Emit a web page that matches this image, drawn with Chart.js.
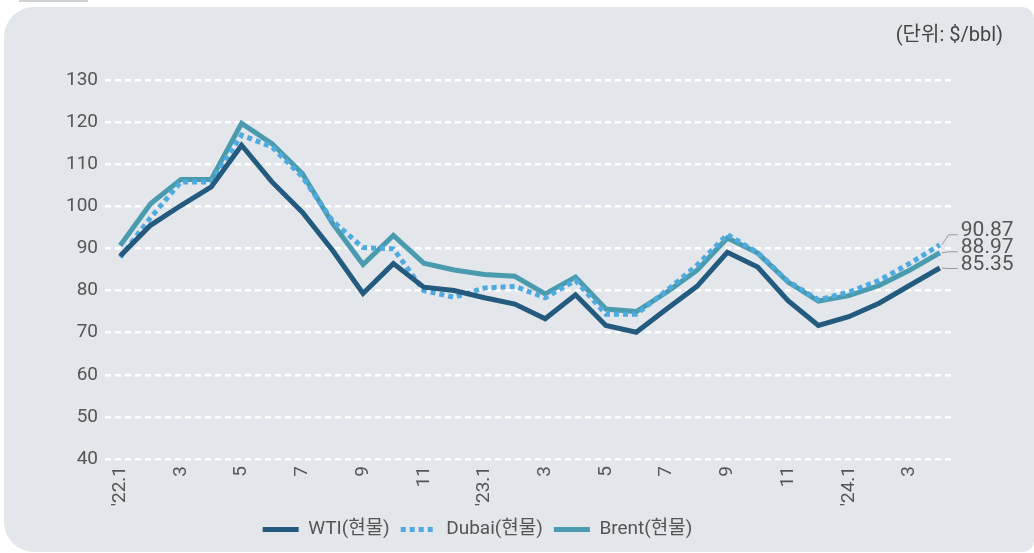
<!DOCTYPE html>
<html>
<head>
<meta charset="utf-8">
<script src="https://cdn.jsdelivr.net/npm/chart.js@4/dist/chart.umd.min.js"></script>
<style>
  html, body { margin: 0; padding: 0; background: #ffffff; width: 1034px; height: 553px; overflow: hidden; }
  #tab { position: absolute; left: 19px; top: 0; width: 69px; height: 2px; background: #cfd2d5; }
  #panel { position: absolute; left: 4px; top: 7px; width: 1030px; height: 545px; background: #e3e7eb;
           border-radius: 30px 12px 12px 30px; }
  #c { position: absolute; left: 0; top: 0; }
</style>
</head>
<body>
<div id="tab"></div>
<div id="panel"></div>
<canvas id="c" width="1034" height="553"></canvas>
<script>
const categories = ["'22.1","2","3","4","5","6","7","8","9","10","11","12",
                    "'23.1","2","3","4","5","6","7","8","9","10","11","12",
                    "'24.1","2","3","4"];
const wti   = [88.2, 95.5, 100.2, 104.6, 114.5, 105.8, 98.6, 89.5, 79.3, 86.4, 80.8, 80.0,
               78.3, 76.8, 73.3, 79.0, 71.7, 70.1, 75.6, 81.0, 89.1, 85.6, 77.6, 71.7,
               73.8, 77.0, 81.2, 85.35];
const dubai = [87.9, 97.3, 105.8, 105.8, 116.9, 114.1, 107.0, 96.5, 90.2, 89.9, 80.0, 78.4,
               80.6, 81.0, 78.3, 82.4, 74.4, 74.4, 80.0, 86.0, 93.3, 89.0, 82.2, 77.8,
               79.6, 82.4, 86.4, 90.87];
const brent = [90.7, 100.6, 106.4, 106.4, 119.7, 114.9, 107.8, 95.9, 86.2, 93.1, 86.5, 84.9,
               83.8, 83.4, 79.2, 83.2, 75.6, 75.0, 79.6, 84.8, 92.5, 88.9, 82.0, 77.5,
               78.8, 81.2, 84.8, 88.97];
const seriesNames = ["WTI(현물)", "Dubai(현물)", "Brent(현물)"];
const endLabels = ["85.35", "90.87", "88.97"];
const unitText = "(단위: $/bbl)";
const yTicks = { min: 40, max: 130, step: 10 };

const FONT = 'Roboto, "Noto Sans CJK KR", sans-serif';
const TXT = '#555555';

const endLabelPlugin = {
  id: 'endLabels',
  afterDatasetsDraw(chart) {
    const ctx = chart.ctx;
    const offsets = [-3.5, -14, -5];
    ctx.save();
    chart.data.datasets.forEach((ds, i) => {
      const meta = chart.getDatasetMeta(i);
      const pt = meta.data[meta.data.length - 1];
      const ly = pt.y + offsets[i];
      ctx.strokeStyle = '#9a9a9a';
      ctx.lineWidth = 1;
      ctx.setLineDash([]);
      ctx.beginPath();
      ctx.moveTo(pt.x + 2, pt.y);
      ctx.lineTo(pt.x + 9, ly + 4);
      ctx.lineTo(pt.x + 18, ly + 4);
      ctx.stroke();
      ctx.fillStyle = TXT;
      ctx.font = '21px ' + FONT;
      ctx.textAlign = 'left';
      ctx.textBaseline = 'middle';
      ctx.fillText(endLabels[i], pt.x + 21, ly);
    });
    ctx.font = '20px ' + FONT;
    ctx.fillStyle = '#444444';
    ctx.textAlign = 'right';
    ctx.textBaseline = 'middle';
    ctx.fillText(unitText, 1003, 36);
    ctx.restore();
  }
};

new Chart(document.getElementById('c'), {
  type: 'line',
  data: {
    labels: categories,
    datasets: [
      { label: seriesNames[0], data: wti, borderColor: '#235a7d', backgroundColor: '#235a7d',
        borderWidth: 5, pointRadius: 0, tension: 0, borderCapStyle: 'butt', borderJoinStyle: 'miter' },
      { label: seriesNames[1], data: dubai, borderColor: '#4faae0', backgroundColor: '#4faae0',
        borderWidth: 5, borderDash: [5, 4], pointRadius: 0, tension: 0, borderCapStyle: 'butt' },
      { label: seriesNames[2], data: brent, borderColor: '#4b9baf', backgroundColor: '#4b9baf',
        borderWidth: 5, pointRadius: 0, tension: 0, borderCapStyle: 'butt', borderJoinStyle: 'miter' }
    ]
  },
  options: {
    responsive: false,
    animation: false,
    layout: { padding: { top: 80, right: 79, bottom: 4, left: 0 } },
    plugins: {
      tooltip: { enabled: false },
      legend: {
        position: 'bottom',
        labels: {
          usePointStyle: true,
          pointStyle: 'line',
          pointStyleWidth: 36,
          boxHeight: 19,
          padding: 11,
          color: TXT,
          font: { family: FONT, size: 19 },
          generateLabels(chart) {
            const items = Chart.defaults.plugins.legend.labels.generateLabels(chart);
            items.forEach((it, i) => {
              const ds = chart.data.datasets[i];
              it.lineDash = ds.borderDash || [];
              it.lineWidth = 5;
              it.strokeStyle = ds.borderColor;
              it.fillStyle = ds.borderColor;
              it.lineCap = 'butt';
              it.pointStyle = 'line';
            });
            return items;
          }
        }
      }
    },
    scales: {
      x: {
        offset: true,
        grid: { display: false, drawTicks: false },
        border: { display: false },
        afterFit(scale) { scale.height = 50; },
        ticks: {
          autoSkip: false,
          maxRotation: 90,
          minRotation: 90,
          padding: 7,
          color: TXT,
          font: { family: FONT, size: 19 },
          callback(v, i) { return i % 2 === 0 ? categories[i] : ''; }
        }
      },
      y: {
        min: yTicks.min,
        max: yTicks.max,
        afterFit(scale) { scale.width = 105; },
        grid: { color: '#ffffff', lineWidth: 2.5, drawTicks: false },
        border: { display: false, dash: [6, 4] },
        ticks: {
          stepSize: yTicks.step,
          padding: 7,
          color: TXT,
          font: { family: FONT, size: 19 }
        }
      }
    }
  },
  plugins: [endLabelPlugin]
});
</script>
</body>
</html>
